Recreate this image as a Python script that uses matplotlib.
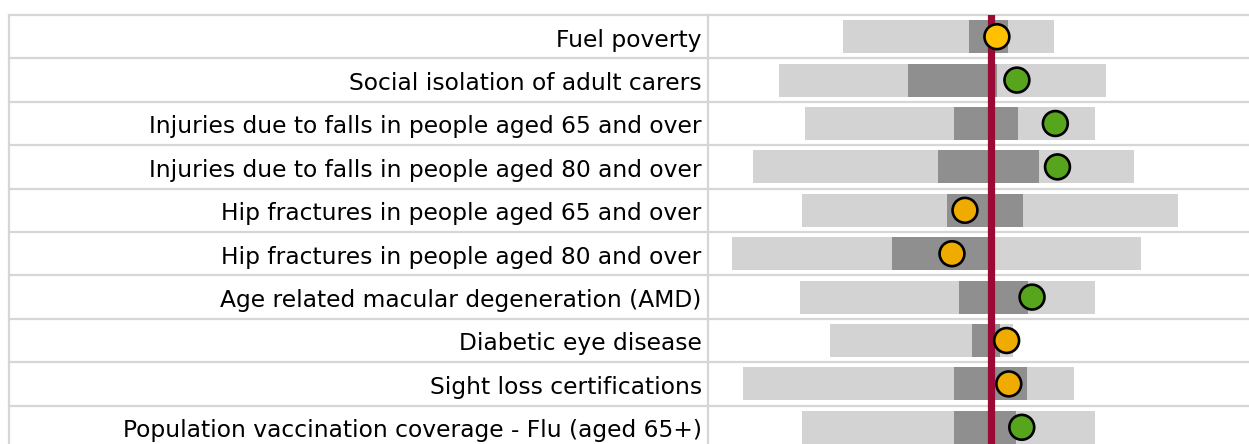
import numpy as np
import matplotlib
matplotlib.use("Agg")
import matplotlib.pyplot as plt

# indicator names, top to bottom
indicators = [
    "Fuel poverty",
    "Social isolation of adult carers",
    "Injuries due to falls in people aged 65 and over",
    "Injuries due to falls in people aged 80 and over",
    "Hip fractures in people aged 65 and over",
    "Hip fractures in people aged 80 and over",
    "Age related macular degeneration (AMD)",
    "Diabetic eye disease",
    "Sight loss certifications",
    "Population vaccination coverage - Flu (aged 65+)",
]

# spine values on a 0-100 scale
worst = [25.0, 13.2, 17.9, 8.4, 17.3, 4.5, 17.0, 22.6, 6.5, 17.3]
best = [63.9, 73.5, 71.5, 78.8, 86.8, 80.1, 71.5, 56.3, 67.7, 71.5]
q25 = [48.2, 36.9, 45.4, 42.6, 44.1, 34.1, 46.4, 48.8, 45.4, 45.4]
q75 = [55.5, 53.5, 57.3, 61.1, 58.3, 51.8, 59.1, 54.0, 58.9, 56.9]
local_value = [53.4, 57.1, 64.2, 64.6, 47.5, 45.1, 59.9, 55.2, 55.6, 58.0]
england = 52.3

marker_colors = [
    "#ffc000", "#56a51c", "#56a51c", "#56a51c", "#f0ab00",
    "#f0ab00", "#56a51c", "#f0ab00", "#f0ab00", "#56a51c",
]

grid_color = "#d6d6d6"
light_gray = "#d3d3d3"
dark_gray = "#8e8f8e"
england_color = "#9b0a36"

W, H = 1249, 444
top_px = 15
row_px = 43.4
n_rows_visible = (H - top_px) / row_px

fig = plt.figure(figsize=(W / 100, H / 100), dpi=100)

ax_lab = fig.add_axes([9 / W, 0, (708 - 9) / W, (H - top_px) / H])
ax = fig.add_axes([708 / W, 0, (W - 708) / W, (H - top_px) / H])

for a in (ax_lab, ax):
    a.set_ylim(n_rows_visible - 0.5, -0.5)
    a.axis("off")
    for i in range(len(indicators) + 1):
        a.axhline(i - 0.5, color=grid_color, lw=1.6, clip_on=False, zorder=1)

ax_lab.set_xlim(0, 1)
ax_lab.axvline(0, color=grid_color, lw=1.6, clip_on=False)
ax_lab.axvline(1, color=grid_color, lw=1.6, clip_on=False)

y = np.arange(len(indicators))

for i, name in enumerate(indicators):
    ax_lab.text(
        0.991, i + 0.23, name,
        ha="right", va="baseline",
        fontsize=16.8, family="DejaVu Sans", color="black"
    )

ax.set_xlim(0, 100)

worst = np.array(worst)
best = np.array(best)
q25 = np.array(q25)
q75 = np.array(q75)

ax.barh(y, best - worst, left=worst, height=0.76, color=light_gray, zorder=2)
ax.barh(y, q75 - q25, left=q25, height=0.76, color=dark_gray, zorder=3)

ax.axvline(england, color=england_color, lw=5.2, zorder=4)

ax.scatter(
    local_value, y,
    s=320, c=marker_colors,
    edgecolors="black", linewidths=1.9,
    zorder=5, clip_on=False
)

fig.savefig("out.png", dpi=100)
